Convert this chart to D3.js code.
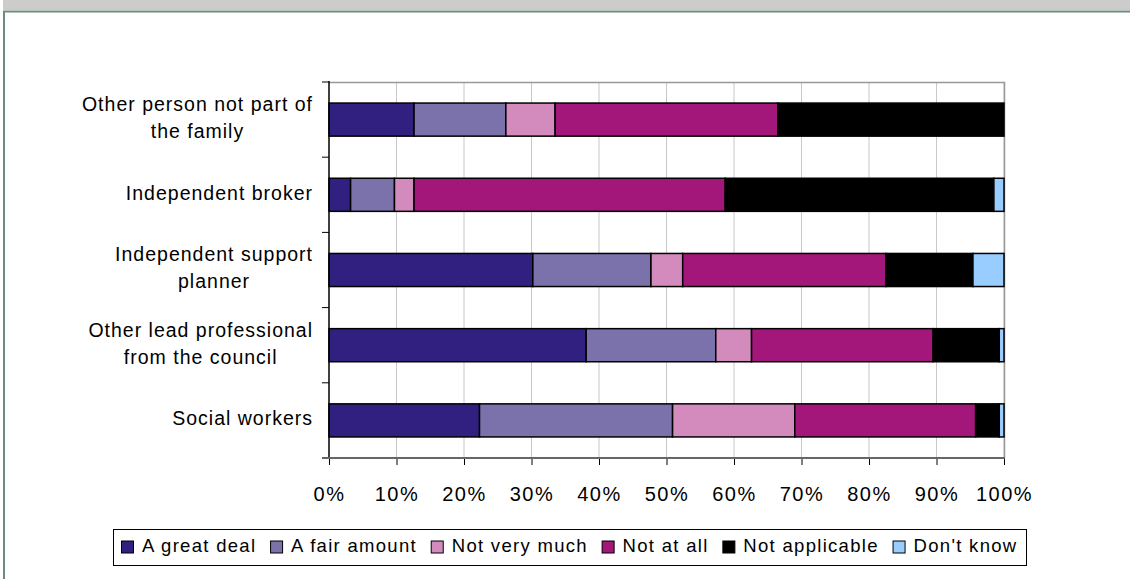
<!DOCTYPE html>
<html><head><meta charset="utf-8">
<script src="https://cdn.jsdelivr.net/npm/d3@7"></script>
<style>body{margin:0;background:#fff}svg{display:block}text{font-family:"Liberation Sans",Arial,sans-serif;fill:#000}</style>
</head><body><svg id="c" width="1130" height="579"></svg>
<script>
const categories = [
  ["Other person not part of","the family"],
  ["Independent broker"],
  ["Independent support","planner"],
  ["Other lead professional","from the council"],
  ["Social workers"]
];
const series = ["A great deal","A fair amount","Not very much","Not at all","Not applicable","Don't know"];
const colors = ["#31207f","#7b72ab","#d38bbe","#a3177b","#000000","#99ccff"];
const greatDeal     = [12.6, 3.2, 30.2, 38.1, 22.3];
const fairAmount    = [13.6, 6.5, 17.5, 19.2, 28.6];
const notVeryMuch   = [7.3, 2.9, 4.7, 5.3, 18.1];
const notAtAll      = [33.0, 46.1, 30.1, 26.9, 26.8];
const notApplicable = [33.5, 39.8, 12.9, 9.8, 3.5];
const dontKnow      = [0.0, 1.5, 4.6, 0.7, 0.7];
const tickValues = [0,10,20,30,40,50,60,70,80,90,100];
const tickLabels = ["0%","10%","20%","30%","40%","50%","60%","70%","80%","90%","100%"];

(function(){
const svg = d3.select("#c");
// frame
svg.append("rect").attr("x",3).attr("y",0).attr("width",1127).attr("height",10).attr("fill","#cccccc");
svg.append("line").attr("x1",3).attr("x2",1130).attr("y1",11.5).attr("y2",11.5).attr("stroke","#6e8b7b").attr("stroke-width",2);
svg.append("line").attr("x1",4).attr("x2",4).attr("y1",11).attr("y2",579).attr("stroke","#6e8b7b").attr("stroke-width",2);

const pL=329, pR=1004, pT=82, pB=458;
const x = d3.scaleLinear().domain([0,100]).range([pL,pR]);
const idx = d3.range(categories.length);
const y = d3.scaleBand().domain(idx).range([pT,pB]).paddingInner(0.56).paddingOuter(0.28);

// gridlines
svg.append("g").selectAll("line").data(tickValues.slice(1)).join("line")
  .attr("x1",d=>x(d)).attr("x2",d=>x(d)).attr("y1",pT).attr("y2",pB)
  .attr("stroke","#c8c8c8").attr("stroke-width",1);
// plot border top/right
svg.append("path").attr("d",`M${pL},${pT+0.5}H${pR+0.5}V${pB}`).attr("fill","none").attr("stroke","#999").attr("stroke-width",1.5);

// data stacking
const rows = idx.map(i=>{const o={i};const vals=[greatDeal[i],fairAmount[i],notVeryMuch[i],notAtAll[i],notApplicable[i],dontKnow[i]];series.forEach((s,k)=>o[s]=vals[k]);return o;});
const stack = d3.stack().keys(series)(rows);
svg.append("g").selectAll("g").data(stack).join("g").attr("fill",(d,k)=>colors[k])
  .selectAll("rect").data(d=>d.filter(p=>p[1]-p[0]>0)).join("rect")
  .attr("x",p=>x(p[0])).attr("width",p=>x(p[1])-x(p[0]))
  .attr("y",p=>y(p.data.i)).attr("height",y.bandwidth())
  .attr("stroke","#000").attr("stroke-width",1.5);

// y axis
const step = y.step();
svg.append("line").attr("x1",pL).attr("x2",pL).attr("y1",pT-1).attr("y2",pB).attr("stroke","#000").attr("stroke-width",1.5);
svg.append("g").selectAll("line").data(d3.range(categories.length+1)).join("line")
  .attr("x1",pL-7).attr("x2",pL).attr("y1",d=>pT+d*step).attr("y2",d=>pT+d*step).attr("stroke","#000").attr("stroke-width",1);

// x axis
const xAxis = d3.axisBottom(x).tickValues(tickValues).tickFormat((d,i)=>tickLabels[i]).tickSize(7).tickPadding(22);
const gx = svg.append("g").attr("transform",`translate(0,${pB})`).call(xAxis);
gx.select(".domain").remove();
svg.append("line").attr("x1",pL-7).attr("x2",pR+1).attr("y1",pB).attr("y2",pB).attr("stroke","#666").attr("stroke-width",2);
gx.selectAll(".tick line").attr("stroke","#000");
gx.selectAll("text").attr("font-size",20).attr("letter-spacing","1.5px").attr("font-family","Liberation Sans, Arial, sans-serif").attr("fill","#000");

// category labels
const lab = svg.append("g");
categories.forEach((lines,i)=>{
  const cy = y(i)+y.bandwidth()/2 - 2;
  const g = lab.append("g");
  const n = lines.length, lh = 27;
  const ts = lines.map((t,k)=>g.append("text").attr("font-size",19.5).attr("letter-spacing","1px").attr("text-anchor","middle")
      .attr("y",cy + (k-(n-1)/2)*lh).attr("dy","0.35em").text(t));
  const w = d3.max(ts.map(t=>t.node().getComputedTextLength()));
  ts.forEach(t=>t.attr("x",313 - w/2));
});

// legend
const lg = svg.append("g");
lg.append("rect").attr("x",113.5).attr("y",529.5).attr("width",913).attr("height",36).attr("fill","#fff").attr("stroke","#000").attr("stroke-width",1);
const sw = 12, tgap = 8.5, startX = 121.5, endX = 1017.5;
const items = series.map((s,k)=>{
  const r = lg.append("rect").attr("y",541).attr("width",sw).attr("height",sw).attr("fill",colors[k]).attr("stroke","#000").attr("stroke-width",1);
  const t = lg.append("text").attr("y",552).attr("font-size",18.5).attr("letter-spacing","1.3px").text(s);
  return {r,t,w:t.node().getComputedTextLength()};
});
const totalW = d3.sum(items, it=>sw+tgap+it.w);
const between = (endX-startX-totalW)/(items.length-1);
let lx = startX;
items.forEach(it=>{
  it.r.attr("x",lx);
  it.t.attr("x",lx+sw+tgap);
  lx += sw+tgap+it.w+between;
});
})();
</script></body></html>
